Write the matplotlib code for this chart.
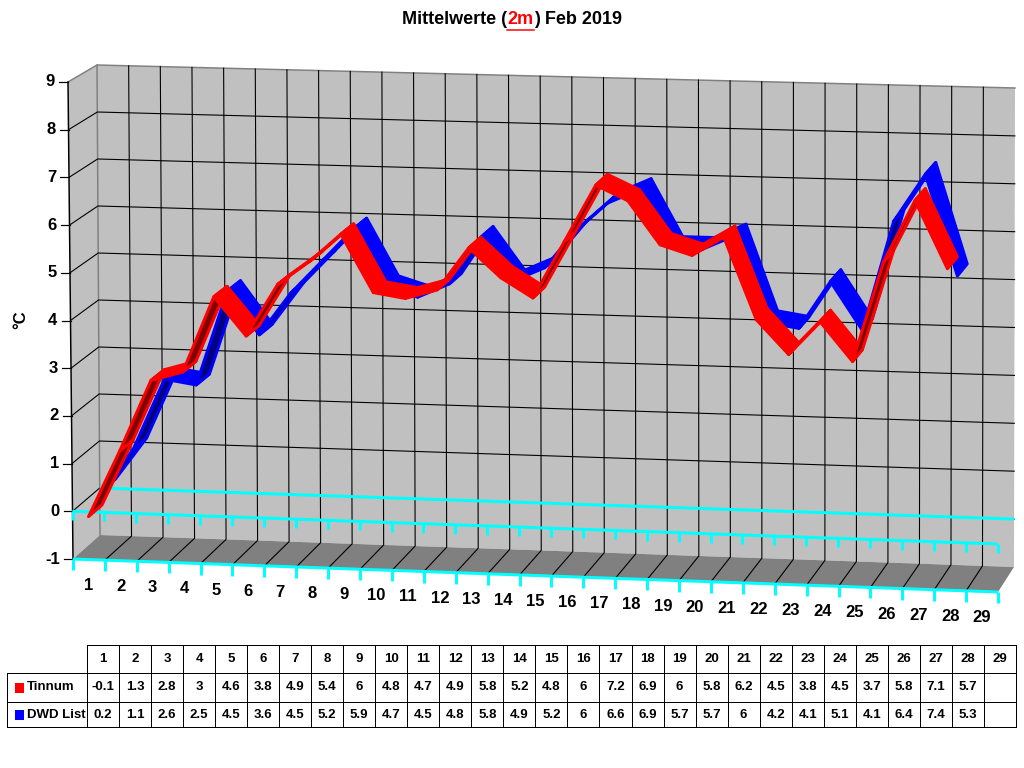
import numpy as np
import matplotlib
matplotlib.use('Agg')
from matplotlib import pyplot as plt
from matplotlib.patches import Polygon

plt.rcParams['font.family'] = ['Liberation Sans', 'DejaVu Sans']
plt.rcParams['font.weight'] = 'bold'

# data (Feb 2019, daily mean temperature at 2 m)
days = list(range(1, 30))
tinnum = [-0.1, 1.3, 2.8, 3, 4.6, 3.8, 4.9, 5.4, 6, 4.8, 4.7, 4.9, 5.8, 5.2, 4.8,
          6, 7.2, 6.9, 6, 5.8, 6.2, 4.5, 3.8, 4.5, 3.7, 5.8, 7.1, 5.7]
dwd = [0.2, 1.1, 2.6, 2.5, 4.5, 3.6, 4.5, 5.2, 5.9, 4.7, 4.5, 4.8, 5.8, 4.9, 5.2,
       6, 6.6, 6.9, 5.7, 5.7, 6, 4.2, 4.1, 5.1, 4.1, 6.4, 7.4, 5.3]
series_names = ['Tinnum', 'DWD List']
y_ticks = list(range(-1, 10))
title_parts = ['Mittelwerte (', '2m', ') Feb 2019']

PX = 0.72  # one pixel in points at dpi 100
D0, D1 = 0.5, 29.5
VMIN, VMAX = -1, 9

# corners of the 3D box in pixels: (day edge, value edge, depth)
corners = {
    (0, 0, 0): (73, 559), (0, 1, 0): (68, 82),
    (1, 0, 0): (998, 592), (1, 1, 0): (994, 112),
    (0, 0, 1): (100, 535), (0, 1, 1): (97, 65),
    (1, 0, 1): (1014, 567), (1, 1, 1): (1015, 88),
}


def proj(d, v, z):
    u = (d - D0) / (D1 - D0)
    w = (v - VMIN) / (VMAX - VMIN)
    x = y = 0.0
    for (i, j, k), (cx, cy) in corners.items():
        f = (u if i else 1 - u) * (w if j else 1 - w) * (z if k else 1 - z)
        x += f * cx
        y += f * cy
    return x, y


fig = plt.figure(figsize=(10.24, 7.68), dpi=100)
ax = fig.add_axes([0, 0, 1, 1])
ax.set_xlim(0, 1024)
ax.set_ylim(768, 0)
ax.axis('off')

wall = '#c0c0c0'
edge = '#808080'

# back wall, side wall, floor
back = [proj(D0, VMIN, 1), proj(D1, VMIN, 1), proj(D1, VMAX, 1), proj(D0, VMAX, 1)]
ax.add_patch(Polygon(back, closed=True, fc=wall, ec='none', zorder=1))
side = [proj(D0, VMIN, 0), proj(D0, VMAX, 0), proj(D0, VMAX, 1), proj(D0, VMIN, 1)]
ax.add_patch(Polygon(side, closed=True, fc=wall, ec='none', zorder=1))
floor = [proj(D0, VMIN, 0), proj(D1, VMIN, 0), proj(D1, VMIN, 1), proj(D0, VMIN, 1)]
ax.add_patch(Polygon(floor, closed=True, fc='#808080', ec='none', zorder=1))

# wall edges
for pts in ([proj(D0, VMIN, 1), proj(D0, VMAX, 1), proj(D1, VMAX, 1)],
            [proj(D0, VMAX, 0), proj(D0, VMAX, 1)]):
    xs, ys = zip(*pts)
    ax.plot(xs, ys, color=edge, lw=1.5 * PX, zorder=2)

# grid on back wall and side wall
for v in range(VMIN + 1, VMAX):
    xs, ys = zip(*[proj(D0, v, 0), proj(D0, v, 1), proj(D1, v, 1)])
    ax.plot(xs, ys, color='black', lw=1.1 * PX, zorder=2)
for i in range(1, 29):
    d = D0 + i
    xs, ys = zip(*[proj(d, VMIN, 0), proj(d, VMIN, 1), proj(d, VMAX, 1)])
    ax.plot(xs, ys, color='black', lw=1.1 * PX, zorder=2)

# left axis line, ticks and labels
xs, ys = zip(*[proj(D0, VMIN, 0), proj(D0, VMAX, 0)])
ax.plot(xs, ys, color='black', lw=1.5 * PX, zorder=3)
for v in y_ticks:
    x, y = proj(D0, v, 0)
    ax.plot([x - 9, x], [y, y], color='black', lw=1.2 * PX, zorder=3)
    ax.text(x - 13, y, str(v), ha='right', va='center', fontsize=12, zorder=3)
ax.text(21, 320, '°C', rotation=90, ha='center', va='center', fontsize=12)

# cyan axis lines
cyan = '#00ffff'
for v, z, ticks, tl in ((0, 1, False, 0), (0, 0, True, 9), (VMIN, 0, True, 11)):
    xs, ys = zip(*[proj(D0, v, z), proj(D1, v, z)])
    ax.plot(xs, ys, color=cyan, lw=3 * PX, zorder=4, solid_capstyle='butt')
    if ticks:
        for i in range(30):
            x, y = proj(D0 + i, v, z)
            ax.plot([x, x], [y, y + tl], color=cyan, lw=3 * PX, zorder=4,
                    solid_capstyle='butt')

# day labels
for d in days:
    x, y = proj(d, VMIN, 0)
    ax.text(x, y + 26, str(d), ha='center', va='center', fontsize=12, zorder=4)

# ribbons: blue (back slot) first, then red (front slot)
ribbons = [(dwd, 0.5, 1.0, '#0000ff', '#000080'),
           (tinnum, 0.0, 0.5, '#ff0000', '#800000')]
for vals, z0, z1, col, dark in ribbons:
    for i in range(len(vals) - 1):
        da, db = days[i], days[i + 1]
        quad = [proj(da, vals[i], z0), proj(db, vals[i + 1], z0),
                proj(db, vals[i + 1], z1), proj(da, vals[i], z1)]
        q = np.array(quad)
        area = np.sum(q[:, 0] * np.roll(q[:, 1], -1) - np.roll(q[:, 0], -1) * q[:, 1])
        fc = dark if area > 0 else col
        ax.add_patch(Polygon(quad, closed=True, fc=fc, ec=col, lw=3 * PX,
                             joinstyle='round', zorder=5))

# title with red underlined "2m"
renderer = fig.canvas.get_renderer()
title_cols = ['black', 'red', 'black']
texts = [ax.text(0, 20, s, fontsize=13, color=c, ha='left', va='center')
         for s, c in zip(title_parts, title_cols)]
widths = [t.get_window_extent(renderer).width for t in texts]
x = 512 - sum(widths) / 2
for t, w in zip(texts, widths):
    t.set_x(x)
    x += w
ux = 512 - sum(widths) / 2 + widths[0]
ax.plot([ux, ux + widths[1]], [30, 30], color='red', lw=1.5 * PX)

# data table
cx0, cw = 87, 32.03
rows_y = [645, 673, 702, 727]
ax.plot([cx0, cx0 + 29 * cw], [rows_y[0]] * 2, color='black', lw=PX)
for y in rows_y[1:]:
    ax.plot([7, cx0 + 29 * cw], [y, y], color='black', lw=PX)
ax.plot([7, 7], [rows_y[1], rows_y[3]], color='black', lw=PX)
for i in range(30):
    x = cx0 + i * cw
    ax.plot([x, x], [rows_y[0], rows_y[3]], color='black', lw=PX)
for i, d in enumerate(days):
    ax.text(cx0 + (i + 0.5) * cw, 659.5, str(d), ha='center', va='center',
            fontsize=9.5)
for r, (name, vals, col) in enumerate(zip(series_names, [tinnum, dwd],
                                          ['#ff0000', '#0000ff'])):
    yc = (rows_y[r + 1] + rows_y[r + 2]) / 2
    ax.add_patch(plt.Rectangle((15, yc - 5), 9, 10, fc=col, ec='none'))
    ax.text(27, yc, name, ha='left', va='center', fontsize=9.5)
    for i, v in enumerate(vals):
        ax.text(cx0 + (i + 0.5) * cw, yc, f'{v:g}', ha='center', va='center',
                fontsize=9.5)

fig.savefig('out.png', dpi=100)
